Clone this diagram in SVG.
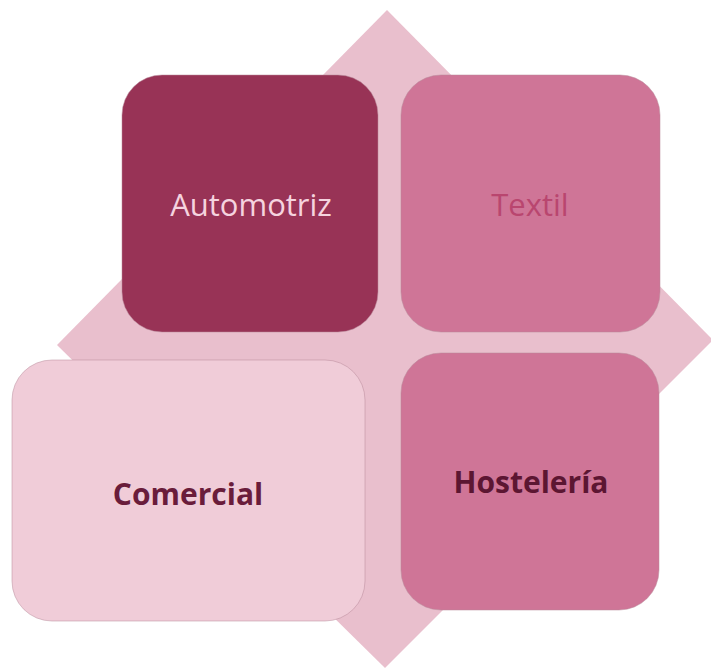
<svg xmlns="http://www.w3.org/2000/svg" width="711" height="672" viewBox="0 0 711 672">
<style>
.box{stroke:#b88a9a;stroke-width:1;stroke-opacity:0.5}
.lbl{font-family:"Open Sans","Liberation Sans",sans-serif;font-size:31px;text-anchor:middle}
.b{font-weight:bold;font-size:30px}
</style>
<rect width="711" height="672" fill="#ffffff"/>
<g id="diamond">
<polygon points="387,10 713,340 385,668 57,345" fill="#e9bfcd"/>
</g>
<g id="connectors"></g>
<g id="automotriz">
<rect class="box" x="122" y="75" width="256" height="257" rx="40" fill="#983356"/>
<text class="lbl" x="251" y="216" fill="#f5d3df">Automotriz</text>
</g>
<g id="textil">
<rect class="box" x="401" y="75" width="259" height="257" rx="40" fill="#cf7597"/>
<text class="lbl" x="530" y="216" fill="#b9466f">Textil</text>
</g>
<g id="comercial">
<rect class="box" x="12" y="360" width="353" height="261" rx="40" fill="#f0ccd8"/>
<text class="lbl b" x="188" y="505" fill="#6a1c3b">Comercial</text>
</g>
<g id="hosteleria">
<rect class="box" x="401" y="353" width="258" height="257" rx="40" fill="#cf7597"/>
<text class="lbl b" x="531" y="493" fill="#5c1632">Hostelería</text>
</g>
</svg>
